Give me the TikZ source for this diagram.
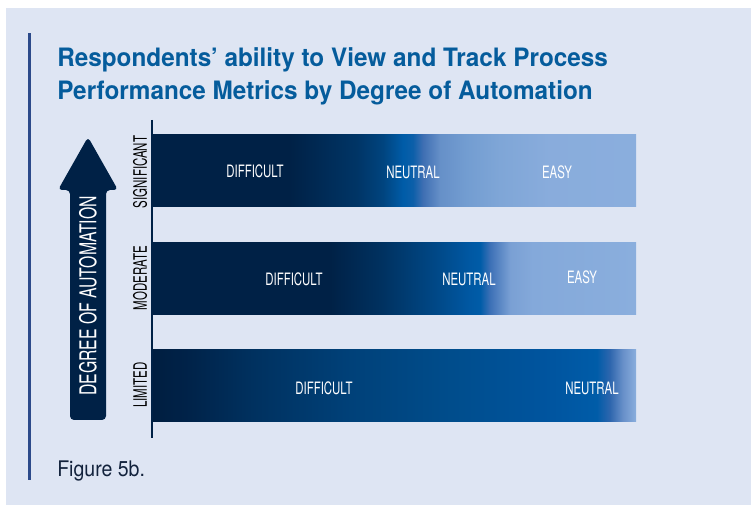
\documentclass[tikz,border=0pt]{standalone}
\usepackage{fontspec}
\setmainfont{TeX Gyre Heros}
\newfontfamily\titlefont[FakeStretch=0.96]{TeX Gyre Heros}
\newfontfamily\barfont[FakeStretch=0.67]{TeX Gyre Heros}
\newfontfamily\rowfont[FakeStretch=0.62]{TeX Gyre Heros}
\newfontfamily\axisfont[FakeStretch=0.68]{TeX Gyre Heros}
\newfontfamily\capfont[FakeStretch=0.91]{TeX Gyre Heros}

\definecolor{pageBg}{RGB}{222,229,243}
\definecolor{accentBlue}{RGB}{44,74,138}
\definecolor{titleBlue}{RGB}{5,92,156}
\definecolor{capNavy}{RGB}{18,34,60}
\definecolor{barNavy}{RGB}{0,33,70}
\definecolor{barBright}{RGB}{0,92,168}
\definecolor{barLight}{RGB}{138,174,221}

% bar gradients, bar spans 25bp--75bp
\pgfdeclarehorizontalshading{sigShade}{100bp}{color(0bp)=(barNavy); color(25bp)=(barNavy);
  color(39.25bp)=(barNavy); rgb(46.2bp)=(0,.208,.4); rgb(48.85bp)=(0,.267,.498);
  color(50.95bp)=(barBright); rgb(51.95bp)=(.047,.373,.663); rgb(53bp)=(.247,.435,.702);
  rgb(54.75bp)=(.4,.565,.784); rgb(57.55bp)=(.451,.616,.82); rgb(60.95bp)=(.498,.651,.843);
  rgb(66.1bp)=(.537,.675,.863); color(75bp)=(barLight); color(100bp)=(barLight)}
\pgfdeclarehorizontalshading{modShade}{100bp}{color(0bp)=(barNavy); color(25bp)=(barNavy);
  color(43.4bp)=(barNavy); rgb(48.85bp)=(0,.196,.38); rgb(54.75bp)=(0,.29,.541);
  rgb(57.85bp)=(0,.345,.639); color(58.9bp)=(barBright); rgb(59.9bp)=(.235,.439,.714);
  rgb(62bp)=(.478,.627,.831); rgb(64.35bp)=(.518,.663,.855); color(75bp)=(barLight);
  color(100bp)=(barLight)}
\pgfdeclarehorizontalshading{limShade}{100bp}{rgb(0bp)=(0,.118,.251); rgb(25bp)=(0,.118,.251);
  rgb(28.4bp)=(0,.133,.282); rgb(35.35bp)=(0,.192,.373); rgb(45.65bp)=(0,.255,.475);
  rgb(56bp)=(0,.302,.549); rgb(66.3bp)=(0,.333,.627); color(70.95bp)=(barBright);
  rgb(72.3bp)=(.18,.4,.682); rgb(73.65bp)=(.408,.565,.788); color(75bp)=(barLight);
  color(100bp)=(barLight)}

\begin{document}
\begin{tikzpicture}[x=0.75pt,y=-0.75pt]
    \tikzstyle{every node} = [inner sep=0pt]
    \tikzstyle{bar} = [shade, rectangle, minimum width=363pt, minimum height=54pt]
    \tikzstyle{barlabel} = [text=white, font=\barfont\fontsize{12.8}{14}\selectfont]
    \tikzstyle{rowlabel} = [text=black, rotate=90, font=\rowfont\fontsize{13.9}{15}\selectfont]
    \useasboundingbox (0,0) rectangle (751,506);
    \fill[pageBg] (6,8) rectangle (751,505);
    \fill[accentBlue] (28,33) rectangle (31,480);

    % title and caption
    \node[anchor=base west, align=left, text=titleBlue,
      font=\titlefont\bfseries\fontsize{19}{24.75}\selectfont] (title) at (57,100)
      {Respondents’ ability to View and Track Process\\Performance Metrics by Degree of Automation};
    \node[anchor=base west, text=capNavy, font=\capfont\fontsize{16.1}{18}\selectfont] (caption) at (57,477) {Figure 5b.};

    % automation arrow
    \fill[barNavy, rounded corners=3pt] (70,420) -- (70,190) -- (58,190) -- (88,137)
      -- (118,190) -- (106,190) -- (106,420) -- cycle;
    \node[text=white, rotate=90, font=\axisfont\fontsize{17.4}{19}\selectfont] (axisText) at (88,296) {DEGREE OF AUTOMATION};

    % place bars
    \node[bar, shading=sigShade] (sigBar) at (394,171) {};
    \node[bar, shading=modShade] (modBar) at (394,279) {};
    \node[bar, shading=limShade] (limBar) at (394,386) {};

    \node[rowlabel] (sigRow) at (140,172) {SIGNIFICANT};
    \node[rowlabel] (modRow) at (140,278) {MODERATE};
    \node[rowlabel] (limRow) at (140,385) {LIMITED};

    \node[barlabel] (sigDiff) at (255,171) {DIFFICULT};
    \node[barlabel] (sigNeut) at (413,172) {NEUTRAL};
    \node[barlabel] (sigEasy) at (557,172) {EASY};
    \node[barlabel] (modDiff) at (294,279) {DIFFICULT};
    \node[barlabel] (modNeut) at (469,279) {NEUTRAL};
    \node[barlabel] (modEasy) at (582,277) {EASY};
    \node[barlabel] (limDiff) at (324,388) {DIFFICULT};
    \node[barlabel] (limNeut) at (592,388) {NEUTRAL};

    % axis line
    \coordinate (axisTop) at (152,120);
    \coordinate (axisBot) at (152,438);
    \draw[barNavy, line width=1pt] (axisTop) -- (axisBot);
\end{tikzpicture}
\end{document}
